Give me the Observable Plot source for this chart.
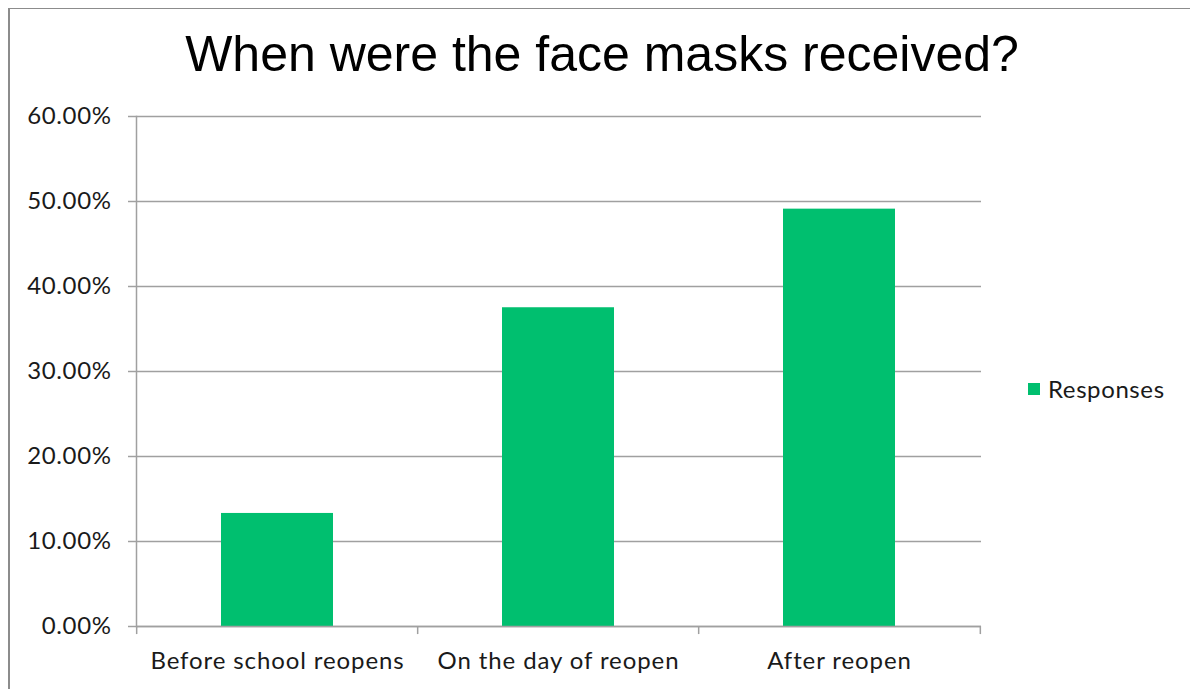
<!DOCTYPE html>
<html>
<head>
<meta charset="utf-8">
<script src="https://cdn.jsdelivr.net/npm/d3@7"></script>
<script src="https://cdn.jsdelivr.net/npm/@observablehq/plot@0.6"></script>
<style>
  html, body { margin: 0; padding: 0; background: #fff; }
  #wrap { position: relative; width: 1190px; height: 689px; overflow: hidden; }
  #border { position: absolute; left: 8px; top: 8px; width: 1190px; height: 700px;
            border-left: 2px solid #8c8c8c; border-top: 1px solid #8c8c8c; }
  #title { position: absolute; left: 0; width: 1204px; top: 29px; text-align: center; line-height: 1;
           font-family: "Liberation Sans", Arial, sans-serif; font-size: 50px; color: #000; }
  #legend { position: absolute; left: 1028px; top: 374px; font-family: Lato, sans-serif;
            font-size: 24px; letter-spacing: 0.6px; color: #1a1a1a; display: flex; align-items: center; }
  #legend span.sw { display: inline-block; width: 12px; height: 12px; background: #00bf6f; margin-right: 8px; }
  #chart { position: absolute; left: 0; top: 0; }
  #chart svg text { letter-spacing: 0.6px; }
  #chart svg g[aria-label="x-axis tick label"] text { letter-spacing: 0.9px; }
</style>
</head>
<body>
<div id="wrap">
  <div id="border"></div>
  <div id="chart"></div>
  <div id="title">When were the face masks received?</div>
  <div id="legend"><span class="sw"></span>Responses</div>
</div>
<script>
const categories = ["Before school reopens", "On the day of reopen", "After reopen"];
const responses = [13.3, 37.5, 49.1];
const yTicks = [0, 10, 20, 30, 40, 50, 60];
const seriesName = "Responses";

const data = categories.map((c, i) => ({category: c, value: responses[i]}));

const W = 1190, H = 689;
const mL = 136, mR = 209, mT = 116, mB = 63;
const step = (W - mL - mR) / categories.length;
const gray = "#a0a0a0";

const plot = Plot.plot({
  width: W,
  height: H,
  marginLeft: mL,
  marginRight: mR,
  marginTop: mT,
  marginBottom: mB,
  style: {fontFamily: "Lato, sans-serif", fontSize: "24px", color: "#1a1a1a", background: "transparent"},
  x: {domain: categories, paddingInner: 0.6, paddingOuter: 0.3, label: null},
  y: {domain: [0, 60], label: null},
  marks: [
    Plot.gridY(yTicks, {stroke: gray, strokeOpacity: 1, strokeWidth: 1.5}),
    Plot.axisY(yTicks, {tickSize: 8, tickPadding: 17, stroke: gray, strokeOpacity: 1, strokeWidth: 1.5,
      tickFormat: d => d.toFixed(2) + "%", fontSize: 24, label: null}),
    Plot.barY(data, {x: "category", y: "value", fill: "#00bf6f"}),
    Plot.frame({anchor: "left", stroke: gray, strokeWidth: 1.5}),
    Plot.ruleY([0], {stroke: gray, strokeWidth: 1.5}),
    Plot.axisX({tickSize: 0, tickPadding: 25, fontSize: 24, label: null}),
    // tick marks at category boundaries
    Plot.ruleX(categories, {x: d => d, dx: -step / 2, y1: 0, y2: -0.95, stroke: gray, strokeWidth: 1.5, clip: false}),
    Plot.ruleX([categories[categories.length - 1]], {x: d => d, dx: step / 2, y1: 0, y2: -0.95, stroke: gray, strokeWidth: 1.5, clip: false})
  ]
});
document.getElementById("chart").appendChild(plot);
</script>
</body>
</html>
